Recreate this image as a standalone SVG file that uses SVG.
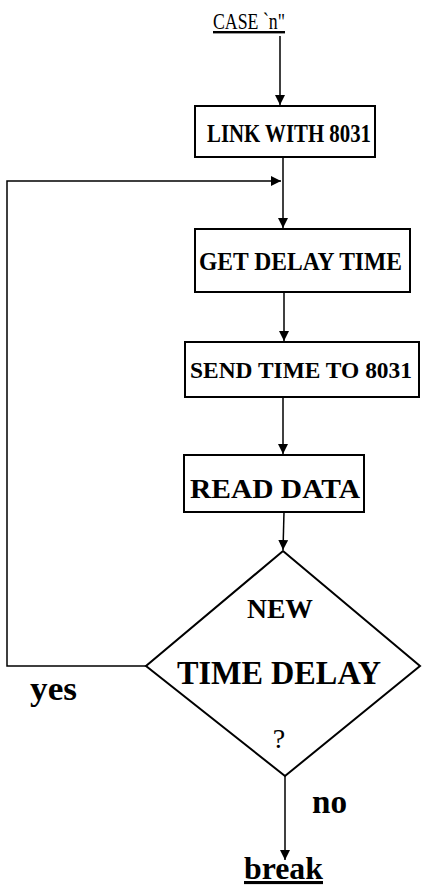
<svg xmlns="http://www.w3.org/2000/svg" width="422" height="886" viewBox="0 0 422 886">
<defs>
<marker id="ah" viewBox="0 0 10 10" refX="10" refY="5" markerWidth="10" markerHeight="10" markerUnits="userSpaceOnUse" orient="auto">
<path d="M0,0 L10,5 L0,10 Z" fill="#000"/>
</marker>
</defs>
<style>
.box{fill:#fff;stroke:#000;stroke-width:2}
.ln{fill:none;stroke:#000;stroke-width:1.5}
.t{font-family:"Liberation Serif","Times New Roman",serif;fill:#000}
.b{font-weight:bold}
</style>
<rect width="422" height="886" fill="#fff"/>
<g id="connectors">
<line class="ln" x1="280" y1="36" x2="280" y2="105" marker-end="url(#ah)"/>
<line class="ln" x1="283" y1="157" x2="283" y2="228" marker-end="url(#ah)"/>
<polyline class="ln" points="146,666 7,666 7,181 281,181" marker-end="url(#ah)"/>
<line class="ln" x1="284" y1="292" x2="284" y2="341" marker-end="url(#ah)"/>
<line class="ln" x1="283" y1="397" x2="283" y2="454" marker-end="url(#ah)"/>
<line class="ln" x1="284" y1="512" x2="283" y2="550" marker-end="url(#ah)"/>
<line class="ln" x1="285" y1="776" x2="285" y2="860" marker-end="url(#ah)"/>
</g>
<g id="start">
<text class="t" x="213" y="29" font-size="24" text-decoration="underline" textLength="72" lengthAdjust="spacingAndGlyphs">CASE `n"</text>
</g>
<g id="link">
<rect class="box" x="195" y="106" width="180" height="51"/>
<text class="t b" x="207" y="142" font-size="25" textLength="164" lengthAdjust="spacingAndGlyphs">LINK WITH 8031</text>
</g>
<g id="getdelay">
<rect class="box" x="195" y="229" width="215" height="63"/>
<text class="t b" x="199" y="270" font-size="26" textLength="203" lengthAdjust="spacingAndGlyphs">GET DELAY TIME</text>
</g>
<g id="sendtime">
<rect class="box" x="185" y="342" width="234" height="55"/>
<text class="t b" x="190" y="378" font-size="23" textLength="222" lengthAdjust="spacingAndGlyphs">SEND TIME TO 8031</text>
</g>
<g id="readdata">
<rect class="box" x="184" y="455" width="180" height="57"/>
<text class="t b" x="190" y="498" font-size="27" textLength="170" lengthAdjust="spacingAndGlyphs">READ DATA</text>
</g>
<g id="decision">
<polygon class="box" points="283,551 420,666 285,776 146,666"/>
<text class="t b" x="280" y="618" font-size="28" text-anchor="middle" textLength="66" lengthAdjust="spacingAndGlyphs">NEW</text>
<text class="t b" x="279" y="684" font-size="33" text-anchor="middle" textLength="204" lengthAdjust="spacingAndGlyphs">TIME DELAY</text>
<text class="t" x="279" y="748" font-size="28" text-anchor="middle">?</text>
</g>
<g id="labels">
<text class="t b" x="30" y="700" font-size="33" textLength="47" lengthAdjust="spacingAndGlyphs">yes</text>
<text class="t b" x="312" y="813" font-size="33" textLength="35" lengthAdjust="spacingAndGlyphs">no</text>
</g>
<g id="end">
<text class="t b" x="244" y="879" font-size="31" text-decoration="underline" textLength="79" lengthAdjust="spacingAndGlyphs">break</text>
</g>
</svg>
